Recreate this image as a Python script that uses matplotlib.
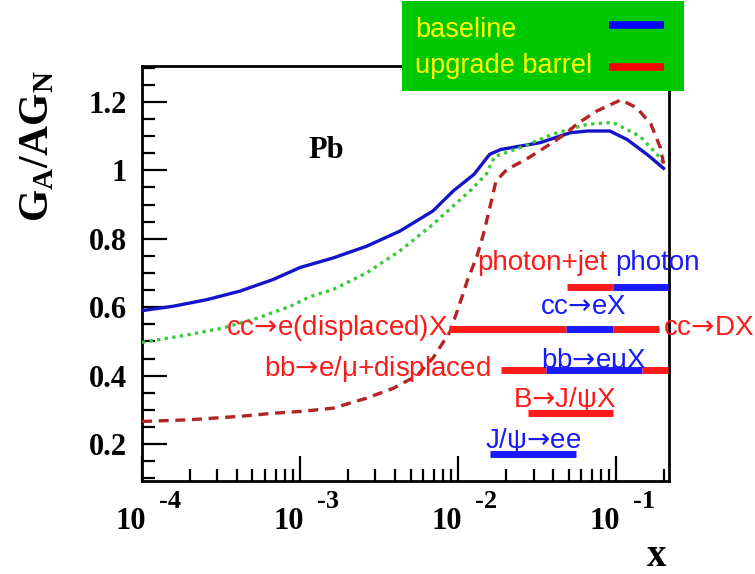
import numpy as np
import matplotlib
matplotlib.use("Agg")
import matplotlib.pyplot as plt
from matplotlib.patches import Rectangle
from matplotlib.lines import Line2D
from matplotlib.ticker import FixedLocator, NullFormatter

plt.rcParams['font.family'] = ['Liberation Sans', 'DejaVu Sans']
plt.rcParams['mathtext.fontset'] = 'custom'
plt.rcParams['mathtext.rm'] = 'Liberation Serif:bold'
plt.rcParams['mathtext.it'] = 'Liberation Serif:bold'
plt.rcParams['mathtext.bf'] = 'Liberation Serif:bold'

# ---------------- data ----------------
baseline_logx = [-4.00, -3.80, -3.59, -3.38, -3.17, -3.00, -2.79, -2.58, -2.37, -2.16,
                 -2.03, -1.90, -1.80, -1.73, -1.48, -1.29, -1.18, -1.04, -0.93, -0.80, -0.70]
baseline_y = [0.590, 0.603, 0.622, 0.647, 0.681, 0.716, 0.744, 0.778, 0.822, 0.881,
              0.940, 0.988, 1.047, 1.061, 1.081, 1.110, 1.115, 1.115, 1.090, 1.045, 1.006]

green_logx = [-4.00, -3.70, -3.49, -3.27, -3.06, -2.94, -2.79, -2.58, -2.37, -2.16,
              -1.92, -1.82, -1.77, -1.61, -1.40, -1.18, -1.02, -0.85, -0.72, -0.70]
green_y = [0.497, 0.520, 0.539, 0.568, 0.603, 0.630, 0.652, 0.700, 0.764, 0.842,
           0.942, 0.990, 1.040, 1.066, 1.106, 1.135, 1.140, 1.100, 1.036, 1.020]

upgrade_logx = [-4.00, -3.70, -3.38, -3.17, -2.98, -2.79, -2.58, -2.41, -2.26, -2.16,
                -2.05, -1.97, -1.94, -1.88, -1.84, -1.80, -1.76, -1.69, -1.57, -1.42,
                -1.31, -1.25, -1.12, -0.97, -0.87, -0.78, -0.72, -0.70]
upgrade_y = [0.266, 0.271, 0.281, 0.290, 0.296, 0.305, 0.334, 0.363, 0.400, 0.451,
             0.529, 0.637, 0.680, 0.750, 0.813, 0.890, 0.969, 1.003, 1.032, 1.076,
             1.110, 1.135, 1.174, 1.206, 1.183, 1.135, 1.066, 1.020]

# coverage bars: (y, x_start, x_end, colour)
bar_segments = [
    (0.658, 0.049, 0.095, 'red'), (0.658, 0.095, 0.213, 'blue'),
    (0.535, 0.0088, 0.048, 'red'), (0.535, 0.048, 0.095, 'blue'), (0.535, 0.095, 0.187, 'red'),
    (0.415, 0.0187, 0.036, 'red'), (0.415, 0.036, 0.145, 'blue'), (0.415, 0.145, 0.213, 'red'),
    (0.292, 0.0276, 0.095, 'red'),
    (0.170, 0.016, 0.056, 'blue'),
]

ARROW = '$\u2192$'
# process labels: (text, x, baseline y, colour, ha)
process_labels = [
    ('photon+jet', 0.0877, 0.710, 'red', 'right'),
    ('photon', 0.0986, 0.710, 'blue', 'left'),
    ('cc' + ARROW + 'eX', 0.0331, 0.580, 'blue', 'left'),
    ('cc' + ARROW + 'e(displaced)X', 0.0087, 0.518, 'red', 'right'),
    ('cc' + ARROW + 'DX', 0.199, 0.518, 'red', 'left'),
    ('bb' + ARROW + 'e/\u03bc+displaced', 0.0160, 0.400, 'red', 'right'),
    ('bb' + ARROW + 'e\u03bcX', 0.0335, 0.422, 'blue', 'left'),
    ('B' + ARROW + 'J/\u03c8X', 0.0223, 0.307, 'red', 'left'),
    ('J/\u03c8' + ARROW + 'ee', 0.0148, 0.187, 'blue', 'left'),
]

y_major = [0.2, 0.4, 0.6, 0.8, 1.0, 1.2]
y_major_labels = ['0.2', '0.4', '0.6', '0.8', '1', '1.2']
x_decades = [1e-4, 1e-3, 1e-2, 1e-1]
x_decade_exps = ['-4', '-3', '-2', '-1']
legend_labels = ['baseline', 'upgrade barrel']

colour_map = {'red': '#ff1a1a', 'blue': '#1a1aff'}

# ---------------- figure ----------------
fig = plt.figure(figsize=(7.55, 5.74), dpi=100)
ax = fig.add_axes([142/755, 1-481/574, 527/755, 415/574])
ax.set_xscale('log')
ax.set_xlim(1e-4, 0.216)
ax.set_ylim(0.092, 1.305)

ax.plot(10**np.array(baseline_logx), baseline_y, color='#1414c8', lw=2.4, zorder=3)
ax.plot(10**np.array(green_logx), green_y, color='#3cc83c', lw=2.4,
        linestyle=(0, (1, 1.3)), zorder=3)
ax.plot(10**np.array(upgrade_logx), upgrade_y, color='#b42424', lw=2.4,
        linestyle=(0, (3, 2)), zorder=3)

for y, x0, x1, c in bar_segments:
    ax.plot([x0, x1], [y, y], color=colour_map[c], lw=5, solid_capstyle='butt', zorder=4)

for txt, x, y, c, ha in process_labels:
    ax.text(x, y, txt, color=colour_map[c], fontsize=20, ha=ha, va='baseline', zorder=5,
            math_fontfamily='dejavusans')

ax.text(10**-2.835, 1.037, 'Pb', fontsize=22, fontfamily='Liberation Serif',
        fontweight='bold', ha='center', va='baseline')

# spines / ticks
for s in ax.spines.values():
    s.set_linewidth(2)
ax.yaxis.set_major_locator(FixedLocator(y_major))
ax.yaxis.set_minor_locator(FixedLocator(np.arange(0.1, 1.31, 0.05)))
ax.set_yticklabels(y_major_labels, fontfamily='Liberation Serif', fontweight='bold', fontsize=22)
ax.tick_params(axis='y', which='major', direction='in', length=18, width=1.6, pad=11)
ax.tick_params(axis='y', which='minor', direction='in', length=9, width=1.6)
ax.tick_params(axis='x', which='major', direction='in', length=18, width=1.6)
ax.tick_params(axis='x', which='minor', direction='in', length=9, width=1.6)
ax.xaxis.set_major_locator(FixedLocator(x_decades))
ax.xaxis.set_minor_locator(FixedLocator([m * d for d in x_decades for m in range(2, 10)]))
ax.xaxis.set_major_formatter(NullFormatter())
ax.xaxis.set_minor_formatter(NullFormatter())

for d, e in zip(x_decades, x_decade_exps):
    ax.annotate('10', xy=(d, 0), xycoords=('data', 'axes fraction'),
                xytext=(3, -29), textcoords='offset points', ha='right', va='center',
                fontfamily='Liberation Serif', fontweight='bold', fontsize=22, annotation_clip=False)
    ax.annotate(e, xy=(d, 0), xycoords=('data', 'axes fraction'),
                xytext=(12, -14.5), textcoords='offset points', ha='left', va='center',
                fontfamily='Liberation Serif', fontweight='bold', fontsize=19, annotation_clip=False)

fig.text(657/755, 1-557/574, 'x', fontfamily='Liberation Serif', fontweight='bold',
         fontsize=28, ha='center', va='center')
fig.text(37/755, 1-146/574, r'$\mathrm{G_A/AG_N}$', rotation=90, fontsize=30,
         ha='center', va='center')

# legend box
fig.patches.append(Rectangle((402/755, 1-91/574), 282/755, 90/574, transform=fig.transFigure,
                             facecolor='#00c800', edgecolor='none', zorder=10))
fig.text(415/755, 1-30/574, legend_labels[0], color='#ffff00', fontsize=19.5,
         ha='left', va='center', zorder=11)
fig.text(415/755, 1-66/574, legend_labels[1], color='#ffff00', fontsize=19.5,
         ha='left', va='center', zorder=11)
fig.lines.append(Line2D([609/755, 664/755], [1-25/574, 1-25/574], transform=fig.transFigure,
                        color='#0000ff', lw=5.5, solid_capstyle='butt', zorder=11))
fig.lines.append(Line2D([609/755, 664/755], [1-67/574, 1-67/574], transform=fig.transFigure,
                        color='#ff0000', lw=5.5, solid_capstyle='butt', zorder=11))

fig.savefig('out.png', dpi=100)
